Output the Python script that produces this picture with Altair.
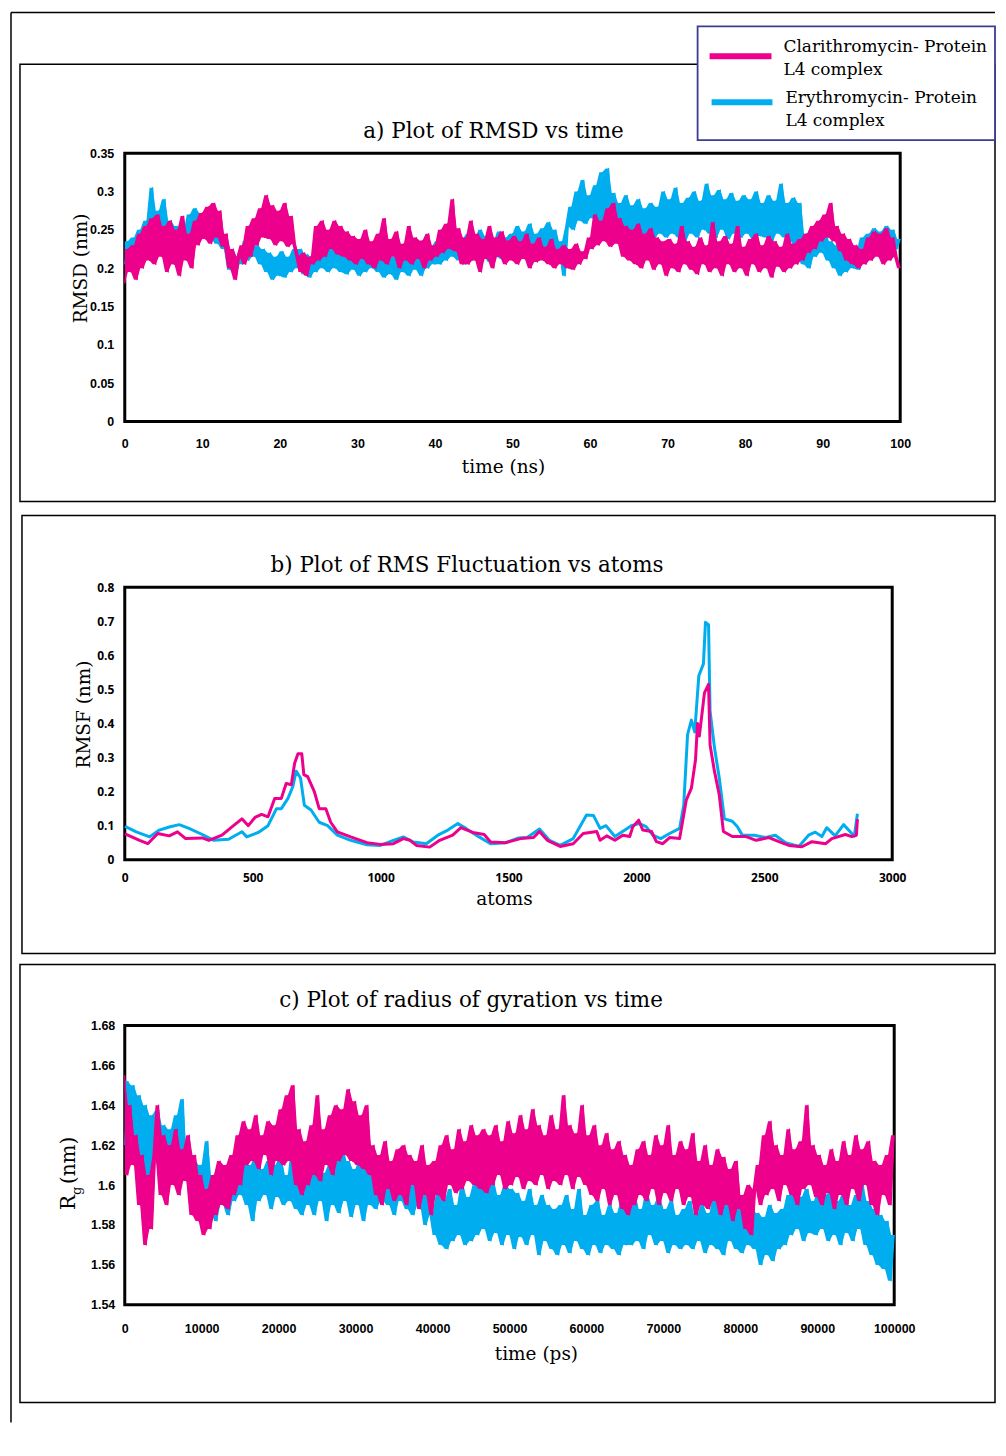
import altair as alt
import pandas as pd

PINK = "#ec008c"
BLUE = "#00aeef"
SERIF = "DejaVu Serif"
NARROW = "Liberation Sans, Arial, sans-serif"
WIDE = "Open Sans, DejaVu Sans, sans-serif"

legend_labels = [["Clarithromycin- Protein", " L4 complex"], ["Erythromycin- Protein", "L4 complex"]]

# ---------------- a) RMSD vs time (ns), sampled every 0.4 ns ----------------
rmsd_tmax = 100
rmsd_clar = [
    0.180, 0.225, 0.195, 0.230,
    0.185, 0.245, 0.200, 0.255, 0.210, 0.265, 0.205,
    0.270, 0.215, 0.255, 0.195, 0.262, 0.205, 0.250, 0.190, 0.268, 0.210, 0.245, 0.200,
    0.262, 0.230, 0.272, 0.238, 0.280, 0.232, 0.285, 0.240, 0.275, 0.228,
    0.245, 0.200, 0.225, 0.185, 0.215,
    0.230, 0.205, 0.255, 0.215, 0.265,
    0.230, 0.278, 0.240, 0.295, 0.238, 0.282, 0.230, 0.275, 0.235, 0.285, 0.228, 0.268, 0.232,
    0.215, 0.195, 0.220, 0.190, 0.215,
    0.205, 0.255, 0.210, 0.262, 0.215, 0.250, 0.225, 0.262, 0.218, 0.255,
    0.215, 0.248, 0.210, 0.242, 0.205, 0.238, 0.212, 0.250, 0.205, 0.235,
    0.200, 0.245, 0.210, 0.265, 0.205, 0.238, 0.215, 0.248, 0.200, 0.232,
    0.210, 0.255, 0.205, 0.240, 0.212, 0.236, 0.200, 0.245, 0.210, 0.230,
    0.215, 0.250, 0.220, 0.258, 0.225, 0.290, 0.222, 0.252, 0.205, 0.240,
    0.205, 0.262, 0.210, 0.245, 0.195, 0.238, 0.212, 0.255, 0.200, 0.240, 0.215, 0.248, 0.205, 0.236, 0.210,
    0.242, 0.205, 0.235, 0.212, 0.245, 0.200, 0.232, 0.208, 0.240, 0.210, 0.228, 0.205, 0.238, 0.200, 0.225,
    0.205, 0.230, 0.200, 0.225, 0.198, 0.232, 0.205, 0.222, 0.212, 0.240,
    0.225, 0.270, 0.230, 0.262, 0.235, 0.278, 0.228, 0.285, 0.232, 0.265,
    0.215, 0.255, 0.210, 0.250, 0.205, 0.258, 0.200, 0.245, 0.210, 0.252, 0.198, 0.240, 0.205, 0.235, 0.190,
    0.238, 0.200, 0.232, 0.195, 0.255, 0.205, 0.235, 0.198, 0.228, 0.192, 0.240, 0.205, 0.230,
    0.195, 0.260, 0.200, 0.235, 0.190, 0.242, 0.205, 0.232, 0.195, 0.255, 0.200, 0.228,
    0.190, 0.238, 0.205, 0.245, 0.195, 0.230, 0.200, 0.242, 0.188, 0.235, 0.202, 0.228, 0.195, 0.245, 0.200, 0.232, 0.205,
    0.238, 0.210, 0.245, 0.220, 0.255, 0.225, 0.262, 0.235, 0.270, 0.240, 0.285,
    0.235, 0.255, 0.222, 0.245, 0.210, 0.238, 0.205, 0.230, 0.200, 0.225,
    0.205, 0.240, 0.210, 0.248, 0.215, 0.245, 0.205, 0.252, 0.210, 0.240, 0.215, 0.200,
]
rmsd_ery = [
    0.205, 0.235, 0.210, 0.240,
    0.205, 0.250, 0.215, 0.262, 0.220, 0.305, 0.225,
    0.275, 0.220, 0.290, 0.215, 0.262, 0.205, 0.255, 0.210, 0.248, 0.215, 0.270, 0.230,
    0.278, 0.240, 0.272, 0.245, 0.270, 0.238, 0.265, 0.232, 0.258, 0.225,
    0.235, 0.198, 0.225, 0.190, 0.215,
    0.205, 0.235, 0.210, 0.240, 0.215,
    0.230, 0.205, 0.225, 0.195, 0.220, 0.185, 0.215, 0.190, 0.222, 0.188, 0.215, 0.195, 0.225,
    0.200, 0.225, 0.192, 0.218, 0.188,
    0.215, 0.195, 0.225, 0.200, 0.218, 0.195, 0.228, 0.200, 0.220, 0.195,
    0.218, 0.192, 0.222, 0.198, 0.215, 0.190, 0.220, 0.195, 0.212, 0.200,
    0.225, 0.195, 0.218, 0.188, 0.222, 0.192, 0.215, 0.185, 0.220, 0.195,
    0.225, 0.190, 0.215, 0.198, 0.222, 0.190, 0.218, 0.200, 0.228, 0.205,
    0.235, 0.205, 0.242, 0.210, 0.248, 0.215, 0.240, 0.210, 0.238, 0.205,
    0.245, 0.210, 0.238, 0.212, 0.250, 0.215, 0.242, 0.208, 0.235, 0.215, 0.248, 0.212, 0.240, 0.218, 0.245,
    0.215, 0.255, 0.220, 0.248, 0.212, 0.258, 0.218, 0.245, 0.215, 0.252, 0.220, 0.260, 0.215, 0.250, 0.222,
    0.235, 0.190, 0.255, 0.280, 0.250, 0.300, 0.262, 0.315, 0.258, 0.295,
    0.265, 0.308, 0.260, 0.325, 0.255, 0.330, 0.250, 0.298, 0.245, 0.285,
    0.240, 0.295, 0.245, 0.282, 0.235, 0.290, 0.240, 0.278, 0.230, 0.285, 0.238, 0.280, 0.245, 0.300, 0.240,
    0.290, 0.245, 0.305, 0.240, 0.285, 0.235, 0.292, 0.245, 0.300, 0.240, 0.288, 0.250, 0.310,
    0.245, 0.295, 0.240, 0.302, 0.250, 0.290, 0.238, 0.298, 0.245, 0.288, 0.240, 0.295,
    0.245, 0.290, 0.238, 0.300, 0.242, 0.285, 0.240, 0.295, 0.235, 0.288, 0.245, 0.310, 0.240, 0.285, 0.235, 0.292, 0.215,
    0.285, 0.205, 0.245, 0.200, 0.230, 0.215, 0.240, 0.220, 0.250, 0.210, 0.235,
    0.200, 0.230, 0.190, 0.225, 0.195, 0.235, 0.200, 0.222, 0.198, 0.240,
    0.210, 0.245, 0.215, 0.252, 0.220, 0.248, 0.212, 0.255, 0.218, 0.250, 0.225, 0.238,
]
rmsd_xticks = [0, 10, 20, 30, 40, 50, 60, 70, 80, 90, 100]
rmsd_yticks = [0, 0.05, 0.1, 0.15, 0.2, 0.25, 0.3, 0.35]

# ---------------- b) RMSF vs atoms ----------------
rmsf_clar_atoms = [1, 58, 90, 129, 174, 206, 238, 303, 329, 380, 425, 458, 483, 509, 535, 560, 586, 612, 631, 651,
                   664, 677, 692, 700, 715, 741, 760, 786, 805, 831, 883, 947, 999, 1050, 1089, 1115, 1140, 1192,
                   1231, 1282, 1314, 1360, 1405, 1430, 1488, 1547, 1598, 1621, 1652, 1702, 1753, 1792, 1845, 1858,
                   1884, 1916, 1947, 1974, 1986, 2009, 2025, 2059, 2078, 2103, 2130, 2169, 2195, 2215, 2231, 2239,
                   2246, 2253, 2266, 2282, 2288, 2305, 2324, 2340, 2375, 2429, 2468, 2518, 2557, 2596, 2647, 2686,
                   2740, 2764, 2817, 2842, 2860, 2864]
rmsf_clar = [0.076, 0.057, 0.047, 0.077, 0.070, 0.082, 0.062, 0.064, 0.057, 0.072, 0.100, 0.120, 0.100, 0.124, 0.133,
             0.126, 0.180, 0.180, 0.224, 0.220, 0.283, 0.311, 0.311, 0.250, 0.244, 0.200, 0.150, 0.150, 0.110, 0.082,
             0.067, 0.050, 0.045, 0.047, 0.062, 0.057, 0.042, 0.037, 0.057, 0.072, 0.094, 0.080, 0.074, 0.052, 0.050,
             0.062, 0.065, 0.083, 0.057, 0.039, 0.047, 0.077, 0.083, 0.057, 0.070, 0.057, 0.072, 0.068, 0.097, 0.116,
             0.087, 0.083, 0.053, 0.047, 0.065, 0.062, 0.175, 0.210, 0.293, 0.400, 0.363, 0.407, 0.490, 0.515, 0.337,
             0.260, 0.190, 0.083, 0.068, 0.068, 0.057, 0.065, 0.053, 0.042, 0.038, 0.053, 0.047, 0.062, 0.074, 0.068,
             0.072, 0.119]
rmsf_ery_atoms = [1, 45, 97, 135, 174, 213, 251, 303, 348, 406, 458, 477, 522, 560, 593, 612, 638, 657, 670, 687,
                  702, 728, 760, 793, 831, 883, 947, 999, 1050, 1089, 1128, 1179, 1224, 1263, 1302, 1334, 1385, 1430,
                  1488, 1540, 1573, 1621, 1660, 1702, 1753, 1779, 1805, 1832, 1858, 1881, 1916, 1955, 1980, 2012,
                  2038, 2064, 2095, 2130, 2169, 2185, 2200, 2215, 2228, 2244, 2262, 2270, 2282, 2288, 2305, 2324,
                  2344, 2375, 2395, 2414, 2460, 2506, 2543, 2583, 2635, 2673, 2699, 2725, 2744, 2777, 2810, 2842,
                  2852, 2864]
rmsf_ery = [0.098, 0.082, 0.067, 0.087, 0.096, 0.103, 0.092, 0.074, 0.057, 0.060, 0.082, 0.067, 0.080, 0.100, 0.150,
            0.150, 0.180, 0.215, 0.260, 0.240, 0.160, 0.146, 0.110, 0.100, 0.072, 0.057, 0.044, 0.042, 0.057, 0.067,
            0.052, 0.047, 0.072, 0.087, 0.106, 0.092, 0.067, 0.047, 0.050, 0.064, 0.065, 0.090, 0.057, 0.042, 0.062,
            0.097, 0.131, 0.130, 0.092, 0.100, 0.068, 0.087, 0.100, 0.106, 0.097, 0.072, 0.062, 0.077, 0.092, 0.160,
            0.367, 0.410, 0.375, 0.540, 0.575, 0.697, 0.690, 0.437, 0.330, 0.240, 0.120, 0.113, 0.097, 0.072, 0.072,
            0.065, 0.072, 0.050, 0.039, 0.072, 0.081, 0.068, 0.094, 0.070, 0.103, 0.077, 0.070, 0.135]
rmsf_xticks = [0, 500, 1000, 1500, 2000, 2500, 3000]
rmsf_yticks = [0, 0.1, 0.2, 0.3, 0.4, 0.5, 0.6, 0.7, 0.8]

# ---------------- c) radius of gyration vs time (ps), sampled every 400 ps ----------------
rg_tmax = 100000
rg_clar = [
    1.655, 1.605, 1.640, 1.610,
    1.625, 1.590, 1.615, 1.570,
    1.605, 1.578, 1.615,
    1.640, 1.595, 1.625, 1.590, 1.620, 1.600, 1.628, 1.595, 1.618, 1.602,
    1.625, 1.585, 1.615, 1.582, 1.605,
    1.575, 1.598, 1.578,
    1.605, 1.585, 1.612, 1.590, 1.610, 1.588, 1.615,
    1.595, 1.625, 1.600,
    1.632, 1.610, 1.628, 1.612, 1.635, 1.608, 1.625, 1.615, 1.632, 1.605, 1.630, 1.612, 1.638, 1.610, 1.645, 1.612, 1.650,
    1.600, 1.628, 1.595, 1.622, 1.600,
    1.630, 1.605, 1.645, 1.602, 1.628,
    1.610, 1.635, 1.605, 1.640, 1.612, 1.638, 1.615, 1.648, 1.612, 1.642, 1.610, 1.635, 1.608, 1.640, 1.605,
    1.620, 1.595, 1.615, 1.590, 1.622, 1.598, 1.612, 1.592, 1.618, 1.595,
    1.620, 1.590, 1.615, 1.600, 1.612, 1.588, 1.620, 1.595, 1.610, 1.585,
    1.612, 1.595, 1.620, 1.592, 1.625, 1.600, 1.618, 1.596, 1.628, 1.598, 1.622, 1.602, 1.630, 1.600, 1.625, 1.598, 1.628, 1.596,
    1.625, 1.600, 1.630, 1.605, 1.622, 1.598, 1.632, 1.600, 1.626, 1.604, 1.635, 1.598, 1.628, 1.602, 1.638, 1.600,
    1.630, 1.605, 1.625, 1.598, 1.635, 1.602, 1.628, 1.600, 1.645, 1.605, 1.630, 1.598, 1.626, 1.604, 1.640, 1.600,
    1.625, 1.595, 1.630, 1.592, 1.620, 1.598, 1.626, 1.590, 1.618, 1.595, 1.622, 1.588, 1.615, 1.585, 1.610,
    1.590, 1.618, 1.595, 1.622, 1.592, 1.615, 1.598, 1.625, 1.590, 1.620, 1.596, 1.630, 1.592, 1.615, 1.598, 1.622, 1.590, 1.618,
    1.594, 1.626, 1.585, 1.612, 1.590, 1.620, 1.588, 1.610, 1.592, 1.618, 1.585, 1.614, 1.590, 1.608, 1.582, 1.612, 1.588,
    1.595, 1.578, 1.600, 1.575, 1.598,
    1.610, 1.590, 1.625, 1.595, 1.632, 1.598, 1.620, 1.592, 1.615, 1.600, 1.628, 1.595, 1.618, 1.590, 1.622,
    1.598, 1.640, 1.600, 1.620, 1.594, 1.615, 1.590, 1.610, 1.596, 1.618, 1.588, 1.612, 1.595, 1.622, 1.590,
    1.615, 1.598, 1.625, 1.592, 1.618, 1.600, 1.622, 1.590, 1.612, 1.585, 1.610, 1.595, 1.615, 1.590, 1.625,
]
rg_ery = [
    1.620, 1.652, 1.625, 1.650, 1.618,
    1.645, 1.610, 1.640, 1.605, 1.635, 1.612, 1.638, 1.608,
    1.630, 1.600, 1.628, 1.605, 1.635, 1.602, 1.643, 1.605,
    1.615, 1.588, 1.612, 1.590, 1.610,
    1.585, 1.622, 1.588, 1.605, 1.582, 1.610, 1.590, 1.606, 1.585, 1.612,
    1.592, 1.615, 1.595, 1.612, 1.590, 1.610, 1.582, 1.615, 1.592, 1.608,
    1.595, 1.612, 1.588, 1.610, 1.594, 1.614, 1.590, 1.605, 1.592, 1.620,
    1.588, 1.612, 1.585, 1.608, 1.590, 1.618, 1.585, 1.612, 1.592, 1.606, 1.582, 1.610, 1.590,
    1.615, 1.586, 1.620, 1.592, 1.612, 1.584, 1.608, 1.590, 1.614, 1.582, 1.618, 1.590,
    1.605, 1.588, 1.610, 1.592, 1.606, 1.590, 1.612, 1.585, 1.604, 1.592,
    1.608, 1.588, 1.602, 1.585, 1.608, 1.590, 1.600, 1.580, 1.602, 1.585,
    1.575, 1.595, 1.570, 1.592, 1.568, 1.598, 1.572, 1.590, 1.575, 1.600, 1.570, 1.594, 1.572,
    1.600, 1.575, 1.605, 1.578, 1.598, 1.572, 1.602, 1.576, 1.595, 1.570, 1.600, 1.575, 1.598,
    1.568, 1.596, 1.574, 1.592, 1.570, 1.598, 1.575, 1.590, 1.565, 1.595, 1.572, 1.590,
    1.568, 1.588, 1.565, 1.590, 1.570, 1.595, 1.566, 1.588, 1.572, 1.598, 1.568, 1.585, 1.565,
    1.590, 1.570, 1.592, 1.566, 1.585, 1.570, 1.590, 1.568, 1.586, 1.565, 1.592, 1.570,
    1.590, 1.570, 1.595, 1.572, 1.588, 1.568, 1.596, 1.575, 1.590, 1.570, 1.594, 1.572, 1.588, 1.566, 1.592, 1.570, 1.585, 1.568,
    1.588, 1.570, 1.592, 1.568, 1.585, 1.572, 1.590, 1.566, 1.586, 1.570, 1.594, 1.568, 1.588, 1.565,
    1.590, 1.572, 1.586, 1.568, 1.592, 1.566, 1.585, 1.570, 1.590, 1.568, 1.586, 1.560, 1.584,
    1.565, 1.590, 1.562, 1.586, 1.568, 1.588, 1.570,
    1.595, 1.575, 1.600, 1.578, 1.594, 1.572, 1.598, 1.576, 1.592, 1.575, 1.600, 1.578, 1.595,
    1.572, 1.598, 1.575, 1.592, 1.570, 1.596, 1.576, 1.590, 1.572, 1.595, 1.578, 1.600,
    1.570, 1.592, 1.565, 1.588, 1.560, 1.585, 1.558, 1.582, 1.552, 1.575,
]
rg_xticks = [0, 10000, 20000, 30000, 40000, 50000, 60000, 70000, 80000, 90000, 100000]
rg_yticks = [1.54, 1.56, 1.58, 1.6, 1.62, 1.64, 1.66, 1.68]


def sampled(values, tmax):
    n = len(values)
    xs = [tmax * i / (n - 1) for i in range(n)]
    return pd.DataFrame({"x": xs, "y": values})


def spread(values, tmax):
    # extent swept by the trace between consecutive samples
    n = len(values)
    xs = [tmax * i / (n - 1) for i in range(n)]
    lo = [min(values[i], values[i + 1]) for i in range(n - 1)] + [values[-1]]
    hi = [max(values[i], values[i + 1]) for i in range(n - 1)] + [values[-1]]
    return pd.DataFrame({"x": xs, "y": lo, "y2": hi})


one = pd.DataFrame({"k": [0]})


def box(x1, x2, y1, y2, stroke="black", sw=1.5, fill="transparent"):
    return alt.Chart(one).mark_rect(stroke=stroke, strokeWidth=sw, fill=fill).encode(
        x=alt.value(x1), x2=alt.value(x2), y=alt.value(y1), y2=alt.value(y2))


def hrule(x1, x2, y, color="black", sw=1.5):
    return alt.Chart(one).mark_rule(color=color, strokeWidth=sw).encode(
        x=alt.value(x1), x2=alt.value(x2), y=alt.value(y))


def vrule(x, y1, y2, color="black", sw=1.5):
    return alt.Chart(one).mark_rule(color=color, strokeWidth=sw).encode(
        x=alt.value(x), y=alt.value(y1), y2=alt.value(y2))


def label(txt, x, y, size, align="left", baseline="middle", angle=0):
    kw = dict(text=txt, align=align, baseline=baseline, font=SERIF, fontSize=size, color="black")
    if angle:
        kw["angle"] = angle
    return alt.Chart(one).mark_text(**kw).encode(x=alt.value(x), y=alt.value(y))


def axis(values, lab_font, lab_size, lab_pad, title=None, **kw):
    base = dict(values=values, labelExpr="'' + datum.value", grid=False, domain=False, ticks=False, tickSize=0,
                labelFont=lab_font, labelFontWeight="bold", labelFontSize=lab_size, labelColor="black",
                labelPadding=lab_pad, labelFlush=False, labelOverlap=False,
                titleFont=SERIF, titleFontSize=18.5, titleFontWeight="normal", titleColor="black")
    base.update(kw)
    base["title"] = title
    return alt.Axis(**base)


def noisy_pair(vals_b, vals_p, tmax, xenc, yenc, sw):
    out = []
    for vals, col in ((vals_b, BLUE), (vals_p, PINK)):
        out.append(alt.Chart(spread(vals, tmax)).mark_area(color=col, opacity=1).encode(
            x=xenc, y=yenc, y2="y2:Q"))
        out.append(alt.Chart(sampled(vals, tmax)).mark_line(color=col, strokeWidth=sw, strokeJoin="round").encode(
            x=xenc, y=yenc))
    return out


RIGHT = 872  # right edge of frames, relative to the plot's left edge

# ---------- panel a ----------
WA, HA = 777, 269
xa = alt.X("x:Q", scale=alt.Scale(domain=[0, rmsd_tmax], nice=False, zero=False),
           axis=axis(rmsd_xticks, NARROW, 12.5, 16, "time (ns)", titleBaseline="alphabetic", titleX=379, titleY=51))
ya = alt.Y("y:Q", scale=alt.Scale(domain=[0, 0.35], nice=False, zero=False),
           axis=axis(rmsd_yticks, NARROW, 12.5, 11, "RMSD (nm)", titleBaseline="alphabetic", titleAngle=270,
                     titleX=-38, titleY=115, titleAlign="center"))
panel_a = alt.layer(
    hrule(-114, RIGHT, -141),
    vrule(-114, -141, 1272),
    box(-105, RIGHT, -89, 349),
    *noisy_pair(rmsd_ery, rmsd_clar, rmsd_tmax, xa, ya, 1.2),
    label("a) Plot of RMSD vs time", 369.5, -21, 21.5, align="center"),
    box(574, RIGHT, -127, -13, stroke="#3c3c96", sw=1.8, fill="white"),
    hrule(586, 648, -97, color=PINK, sw=6),
    hrule(588, 649, -51, color=BLUE, sw=6),
    label(legend_labels[0][0], 660, -106, 17),
    label(legend_labels[0][1], 660, -83, 17),
    label(legend_labels[1][0], 662, -55, 17),
    label(legend_labels[1][1], 662, -32, 17),
).properties(width=WA, height=HA)

# ---------- panel b ----------
WB, HB = 769, 273
xb = alt.X("x:Q", scale=alt.Scale(domain=[0, 3000], nice=False, zero=False),
           axis=axis(rmsf_xticks, WIDE, 12, 13, "atoms", titleBaseline="alphabetic", titleX=380, titleY=45))
yb = alt.Y("y:Q", scale=alt.Scale(domain=[0, 0.8], nice=False, zero=False),
           axis=axis(rmsf_yticks, WIDE, 12, 11, "RMSF (nm)", titleBaseline="alphabetic", titleAngle=270,
                     titleX=-35, titleY=127, titleAlign="center"))
df_rb_b = pd.DataFrame({"x": rmsf_ery_atoms, "y": rmsf_ery})
df_rb_p = pd.DataFrame({"x": rmsf_clar_atoms, "y": rmsf_clar})
panel_b = alt.layer(
    box(-103, RIGHT, -72, 367),
    alt.Chart(df_rb_b).mark_line(color=BLUE, strokeWidth=3, strokeJoin="round").encode(x=xb, y=yb),
    alt.Chart(df_rb_p).mark_line(color=PINK, strokeWidth=3, strokeJoin="round").encode(x=xb, y=yb),
    label("b) Plot of RMS Fluctuation vs atoms", 343, -21, 21.5, align="center"),
).properties(width=WB, height=HB)

# ---------- panel c ----------
WC, HC = 771, 280
xc = alt.X("x:Q", scale=alt.Scale(domain=[0, rg_tmax], nice=False, zero=False),
           axis=axis(rg_xticks, NARROW, 12.5, 18, "time (ps)", titleBaseline="alphabetic", titleX=412, titleY=55))
yc = alt.Y("y:Q", scale=alt.Scale(domain=[1.54, 1.68], nice=False, zero=False),
           axis=axis(rg_yticks, NARROW, 12.5, 10, None))
panel_c = alt.layer(
    box(-105, RIGHT, -61, 378),
    *noisy_pair(rg_ery, rg_clar, rg_tmax, xc, yc, 1.2),
    label("c) Plot of radius of gyration vs time", 347, -24, 21.5, align="center"),
    label("R", -50, 185, 20, baseline="alphabetic", angle=270),
    label("g", -44, 170, 13, baseline="alphabetic", angle=270),
    label("(nm)", -50, 159, 20, baseline="alphabetic", angle=270),
).properties(width=WC, height=HC)

chart = alt.vconcat(panel_a, panel_b, panel_c, spacing=166, bounds="flush").properties(
    padding=0, background="white"
).configure_view(stroke="black", strokeWidth=3)

chart.save("out.html", embed_options={"renderer": "svg", "actions": False})
